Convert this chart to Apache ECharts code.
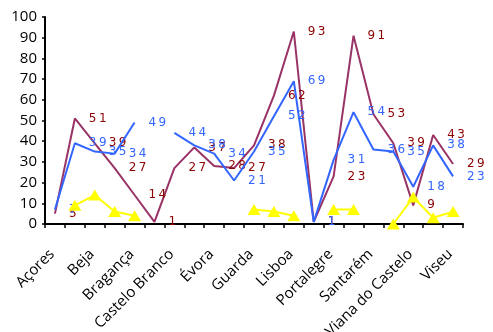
<!DOCTYPE html>
<html>
<head>
<meta charset="utf-8">
<script src="https://cdn.jsdelivr.net/npm/echarts@6/dist/echarts.min.js"></script>
<style>
  html, body { margin: 0; padding: 0; background: #fff; }
  #chart { width: 493px; height: 332px; }
</style>
</head>
<body>
<div id="chart"></div>
<script>
// District names; only every other slot on the axis carries a name.
const categories = [
  'Açores', '', 'Beja', '', 'Bragança', '', 'Castelo Branco', '', 'Évora', '',
  'Guarda', '', 'Lisboa', '', 'Portalegre', '', 'Santarém', '', 'Viana do Castelo', '', 'Viseu'
];

// Series values (null = no value, leaves a gap in the line)
const seriesA = [5, 51, 39, 27, 14, 1, 27, 37, 28, 27, 38, 62, 93, 1, 23, 91, 53, 39, 9, 43, 29];
const seriesB = [7, 39, 35, 34, 49, null, 44, 38, 34, 21, 35, 52, 69, 1, 31, 54, 36, 35, 18, 38, 23];
const seriesC = [null, 9, 14, 6, 4, null, null, null, null, null, 7, 6, 4, null, 7, 7, null, 0, 13, 3, 6];

// Value axis ticks
const yMin = 0, yMax = 100, yStep = 10;

const chart = echarts.init(document.getElementById('chart'));

function valueLabel(color) {
  return {
    show: true,
    position: 'right',
    distance: 14,
    color: color,
    fontFamily: 'DejaVu Sans',
    fontSize: 12,
    formatter: p => (p.value == null ? '' : String(p.value).split('').join('\u2009'))
  };
}

chart.setOption({
  animation: false,
  grid: { left: 45, right: 30, top: 17, bottom: 108, containLabel: false, outerBoundsMode: 'none' },
  xAxis: {
    type: 'category',
    data: categories,
    boundaryGap: true,
    axisLine: { lineStyle: { color: '#000', width: 2 } },
    axisTick: { show: true, interval: 0, length: 4, lineStyle: { color: '#000', width: 1.5 } },
    axisLabel: {
      interval: 0,
      rotate: 45,
      margin: 25,
      padding: [0, 4, 0, 0],
      color: '#000',
      fontFamily: 'Open Sans',
      fontSize: 15
    },
    splitLine: { show: false }
  },
  yAxis: {
    type: 'value',
    min: yMin,
    max: yMax,
    interval: yStep,
    axisLine: { show: true, lineStyle: { color: '#000', width: 2 } },
    axisTick: { show: true, length: 3, lineStyle: { color: '#000', width: 1.5 } },
    axisLabel: {
      margin: 8,
      color: '#000',
      fontFamily: 'Open Sans',
      fontSize: 15
    },
    splitLine: { show: false }
  },
  series: [
    {
      name: 'A',
      type: 'line',
      data: seriesA,
      symbol: 'circle',
      symbolSize: 0,
      showSymbol: true,
      lineStyle: { color: '#993366', width: 2 },
      itemStyle: { color: '#993366' },
      label: valueLabel('#8B0000'),
      z: 3
    },
    {
      name: 'B',
      type: 'line',
      data: seriesB,
      symbol: 'circle',
      symbolSize: 0,
      showSymbol: true,
      lineStyle: { color: '#3366FF', width: 2 },
      itemStyle: { color: '#3366FF' },
      label: valueLabel('#3366FF'),
      z: 4
    },
    {
      name: 'C',
      type: 'line',
      data: seriesC,
      symbol: 'triangle',
      symbolSize: [13, 11],
      showSymbol: true,
      lineStyle: { color: '#FFFF00', width: 2 },
      itemStyle: { color: '#FFFF00', borderWidth: 0 },
      z: 5
    }
  ]
});
</script>
</body>
</html>
